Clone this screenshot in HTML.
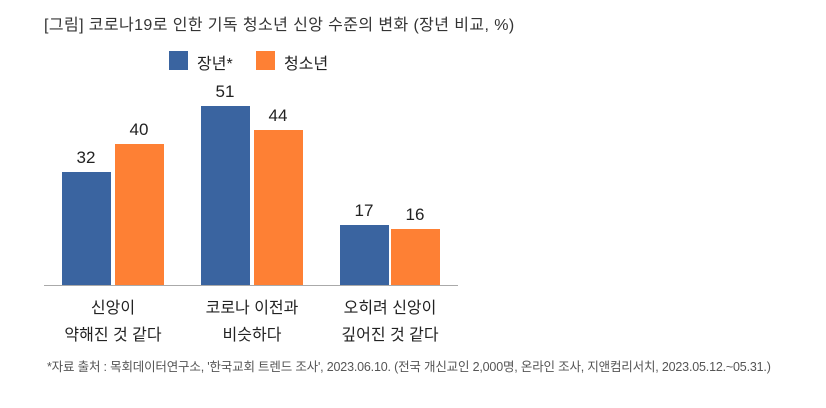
<html><head><style>
body{margin:0;width:826px;height:408px;background:#fff;position:relative;overflow:hidden;font-family:"Liberation Sans","Noto Sans CJK KR",sans-serif;color:#222}
.a{position:absolute;white-space:nowrap}
.b{position:absolute;width:49px}
.bl{background:#3a64a0}.or{background:#fe8034}
.v{position:absolute;width:60px;text-align:center;font-size:17px}
.c{position:absolute;width:140px;text-align:center;font-size:16px;line-height:27px}
</style></head><body>
<div class="a" style="left:44px;top:11px;font-size:16px;color:#333;letter-spacing:0.4px">[그림] 코로나19로 인한 기독 청소년 신앙 수준의 변화 (장년 비교, %)</div>
<div class="a bl" style="left:169px;top:51px;width:19px;height:19px"></div>
<div class="a" style="left:197px;top:50px;font-size:16px">장년*</div>
<div class="a or" style="left:256px;top:51px;width:19px;height:19px"></div>
<div class="a" style="left:284px;top:50px;font-size:16px">청소년</div>
<div class="b bl" style="left:62px;top:172px;height:113px"></div>
<div class="b or" style="left:115px;top:144px;height:141px"></div>
<div class="b bl" style="left:201px;top:106px;height:179px"></div>
<div class="b or" style="left:254px;top:130px;height:155px"></div>
<div class="b bl" style="left:340px;top:225px;height:60px"></div>
<div class="b or" style="left:391px;top:229px;height:56px"></div>
<div class="v" style="left:56px;top:148px">32</div>
<div class="v" style="left:109px;top:120px">40</div>
<div class="v" style="left:195px;top:82px">51</div>
<div class="v" style="left:248px;top:106px">44</div>
<div class="v" style="left:334px;top:201px">17</div>
<div class="v" style="left:385px;top:205px">16</div>
<div class="a" style="left:44px;top:285px;width:414px;height:1px;background:#aaa"></div>
<div class="c" style="left:43px;top:295px">신앙이<br>약해진 것 같다</div>
<div class="c" style="left:182px;top:295px">코로나 이전과<br>비슷하다</div>
<div class="c" style="left:320px;top:295px">오히려 신앙이<br>깊어진 것 같다</div>
<div class="a" style="left:47px;top:356px;font-size:12.5px;color:#555;letter-spacing:-0.18px">*자료 출처 : 목회데이터연구소, '한국교회 트렌드 조사', 2023.06.10. (전국 개신교인 2,000명, 온라인 조사, 지앤컴리서치, 2023.05.12.~05.31.)</div>
</body></html>
